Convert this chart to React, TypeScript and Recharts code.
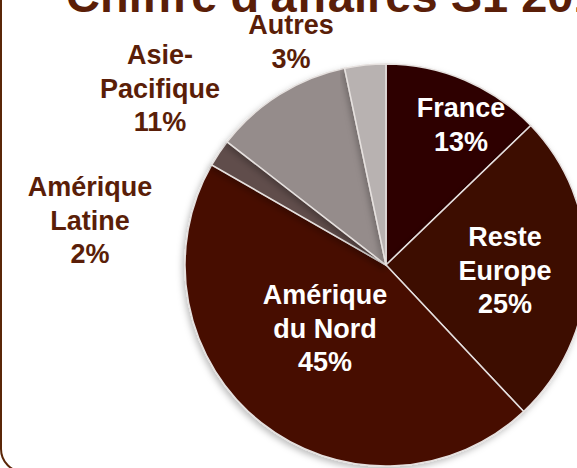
import { PieChart, Pie, Cell } from 'recharts'

const regions = ['France', 'Reste Europe', 'Amérique du Nord', 'Amérique Latine', 'Asie-Pacifique', 'Autres']
const shares = [12.8, 25.2, 45.3, 2.2, 11.2, 3.3]
const percentLabels = ['13%', '25%', '45%', '2%', '11%', '3%']
const labelLines = [
  ['France'],
  ['Reste', 'Europe'],
  ['Amérique', 'du Nord'],
  ['Amérique', 'Latine'],
  ['Asie-', 'Pacifique'],
  ['Autres'],
]

const data = regions.map((name, i) => ({ name, value: shares[i] }))

const colors = ['#2e0503', '#3c0904', '#460d03', '#614e4b', '#958c8b', '#b8b2b1']
// outside labels are brown, inside ones white
const labelColors = ['#ffffff', '#ffffff', '#ffffff', '#5a1e08', '#5a1e08', '#5a1e08']
// label anchors relative to the pie centre (placed by hand in the original slide)
const labelOffsets = [
  [75, -157],
  [119, -28],
  [-61, 30],
  [-296, -78],
  [-226, -210],
  [-95, -240],
]
const LINE_H = 33.5

const renderLabel = (props: any) => {
  const { cx, cy, index } = props
  const [dx, dy] = labelOffsets[index]
  const lines = [...labelLines[index], percentLabels[index]]
  return (
    <text
      key={`lbl-${index}`}
      x={cx + dx}
      y={cy + dy}
      fill={labelColors[index]}
      textAnchor="middle"
      dominantBaseline="central"
      fontSize={27}
      fontWeight="bold"
      fontFamily="'Liberation Sans', Arial, sans-serif"
    >
      {lines.map((l, i) => (
        <tspan key={i} x={cx + dx} dy={i === 0 ? 0 : LINE_H}>
          {l}
        </tspan>
      ))}
    </text>
  )
}

export default function App() {
  return (
    <div style={{ position: 'absolute', left: 0, top: 0, width: 577, height: 468, overflow: 'hidden', background: '#fff' }}>
      {/* cadre de la diapositive */}
      <div
        style={{
          position: 'absolute',
          left: 0,
          top: -40,
          width: 700,
          height: 509,
          border: '2px solid #5a2608',
          borderRadius: 24,
        }}
      />
      <svg width={577} height={468} style={{ position: 'absolute', left: 0, top: 0 }}>
        <text
          x={66}
          y={12}
          fill="#5a1e08"
          fontSize={47}
          fontWeight="bold"
          fontFamily="'Liberation Sans', Arial, sans-serif"
        >
          Chiffre d'affaires S1 2012
        </text>
      </svg>
      <div style={{ position: 'absolute', left: 0, top: 0 }}>
        <PieChart width={577} height={468} margin={{ top: 0, right: 0, bottom: 0, left: 0 }}>
          <defs>
            <filter id="pieShadow" x="-10%" y="-10%" width="120%" height="120%">
              <feDropShadow dx={-2} dy={3} stdDeviation={3} floodColor="#000" floodOpacity={0.25} />
            </filter>
          </defs>
          <Pie
            data={data}
            dataKey="value"
            nameKey="name"
            cx={386}
            cy={265}
            outerRadius={201}
            startAngle={90}
            endAngle={-270}
            stroke="#e6e1df"
            strokeWidth={1.5}
            label={renderLabel}
            labelLine={false}
            isAnimationActive={false}
            style={{ filter: 'url(#pieShadow)' }}
          >
            {data.map((d, i) => (
              <Cell key={d.name} fill={colors[i]} />
            ))}
          </Pie>
        </PieChart>
      </div>
    </div>
  )
}
